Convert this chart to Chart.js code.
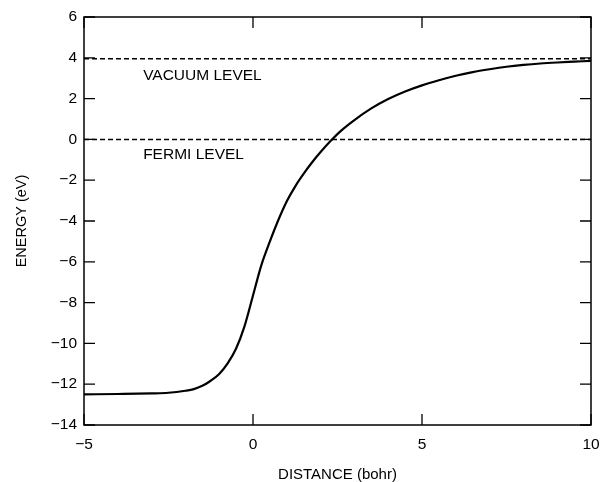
<!DOCTYPE html>
<html>
<head>
<meta charset="utf-8">
<script src="https://cdn.jsdelivr.net/npm/chart.js@4"></script>
<style>
  html, body { margin: 0; padding: 0; background: #fff; }
  #wrap { width: 604px; height: 482px; }
</style>
</head>
<body>
<div id="wrap"><canvas id="c" width="604" height="482"></canvas></div>
<script>
// Potential energy curve (eV) vs distance (bohr)
const distance = [-5, -4, -3, -2.5, -2, -1.75, -1.5, -1.25, -1, -0.75, -0.5, -0.25, 0, 0.25, 0.5, 0.75, 1, 1.25, 1.5, 1.75, 2, 2.3, 2.6, 3, 3.5, 4, 4.5, 5, 5.5, 6, 6.5, 7, 7.5, 8, 8.5, 9, 9.5, 10];
const energy = [-12.5, -12.48, -12.45, -12.42, -12.32, -12.24, -12.08, -11.83, -11.5, -10.98, -10.25, -9.15, -7.65, -6.15, -5.0, -3.95, -3.03, -2.3, -1.68, -1.12, -0.62, -0.07, 0.42, 0.95, 1.52, 1.98, 2.35, 2.65, 2.9, 3.12, 3.3, 3.44, 3.56, 3.65, 3.72, 3.77, 3.81, 3.85];
const vacuumLevel = 3.95;
const fermiLevel = 0;
const xRange = [-5, 10];
const yRange = [-14, 6];
const xTicks = [-5, 0, 5, 10];
const yTicks = [6, 4, 2, 0, -2, -4, -6, -8, -10, -12, -14];
const levelLabels = [
  { text: 'VACUUM LEVEL', x: -3.25, y: 3.12 },
  { text: 'FERMI LEVEL', x: -3.25, y: -0.73 }
];
const xTitle = 'DISTANCE (bohr)';
const yTitle = 'ENERGY (eV)';

const FONT = 'Liberation Sans, Arial, Helvetica, sans-serif';
const fmt = v => String(v).replace('-', '\u2212');

const framePlugin = {
  id: 'frame',
  afterDatasetsDraw(chart) {
    const { ctx, chartArea: a, scales: { x, y } } = chart;
    ctx.save();
    ctx.strokeStyle = '#000';
    ctx.lineWidth = 1.5;
    ctx.strokeRect(a.left, a.top, a.right - a.left, a.bottom - a.top);
    ctx.lineWidth = 1.3;
    const tl = 11;
    ctx.beginPath();
    yTicks.forEach(v => {
      const py = y.getPixelForValue(v);
      ctx.moveTo(a.left, py); ctx.lineTo(a.left + tl, py);
      ctx.moveTo(a.right, py); ctx.lineTo(a.right - tl, py);
    });
    xTicks.forEach(v => {
      const px = x.getPixelForValue(v);
      ctx.moveTo(px, a.bottom); ctx.lineTo(px, a.bottom - tl);
      ctx.moveTo(px, a.top); ctx.lineTo(px, a.top + tl);
    });
    ctx.stroke();
    ctx.fillStyle = '#000';
    ctx.font = '15.5px ' + FONT;
    ctx.textAlign = 'left';
    ctx.textBaseline = 'middle';
    levelLabels.forEach(l => {
      ctx.fillText(l.text, x.getPixelForValue(l.x), y.getPixelForValue(l.y));
    });
    ctx.restore();
  }
};

new Chart(document.getElementById('c'), {
  type: 'line',
  data: {
    datasets: [
      {
        label: 'Potential',
        data: distance.map((d, i) => ({ x: d, y: energy[i] })),
        borderColor: '#000',
        borderWidth: 2.2,
        pointRadius: 0,
        cubicInterpolationMode: 'monotone',
        fill: false
      },
      {
        label: 'Vacuum level',
        data: xRange.map(d => ({ x: d, y: vacuumLevel })),
        borderColor: '#000',
        borderWidth: 1.5,
        borderDash: [5, 3],
        pointRadius: 0,
        fill: false
      },
      {
        label: 'Fermi level',
        data: xRange.map(d => ({ x: d, y: fermiLevel })),
        borderColor: '#000',
        borderWidth: 1.5,
        borderDash: [5, 3],
        pointRadius: 0,
        fill: false
      }
    ]
  },
  options: {
    responsive: false,
    animation: false,
    devicePixelRatio: 1,
    layout: { padding: { top: 17, right: 13, left: 0, bottom: 0 } },
    plugins: { legend: { display: false }, tooltip: { enabled: false } },
    scales: {
      x: {
        type: 'linear',
        min: xRange[0], max: xRange[1],
        afterBuildTicks: s => { s.ticks = xTicks.map(v => ({ value: v })); },
        afterFit: s => { s.height = 57; s.paddingLeft = 0; s.paddingRight = 0; },
        grid: { display: false, drawTicks: false },
        border: { display: false },
        ticks: { color: '#000', padding: 10, maxRotation: 0, font: { family: FONT, size: 15.5 }, callback: v => fmt(v) },
        title: { display: true, text: xTitle, color: '#000', font: { family: FONT, size: 15, lineHeight: 1 }, padding: { top: 0, bottom: 0 } }
      },
      y: {
        type: 'linear',
        min: yRange[0], max: yRange[1],
        afterBuildTicks: s => { s.ticks = yTicks.slice().reverse().map(v => ({ value: v })); },
        afterFit: s => { s.width = 84; s.paddingTop = 0; s.paddingBottom = 0; },
        grid: { display: false, drawTicks: false },
        border: { display: false },
        ticks: { color: '#000', padding: 7, font: { family: FONT, size: 15.5 }, callback: v => fmt(v) },
        title: { display: true, text: yTitle, color: '#000', font: { family: FONT, size: 14.5, lineHeight: 1 }, padding: { top: 15, bottom: 0 } }
      }
    }
  },
  plugins: [framePlugin]
});
</script>
</body>
</html>
